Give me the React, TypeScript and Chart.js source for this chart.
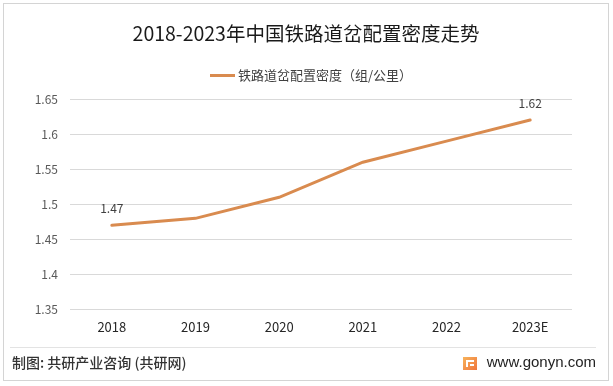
import React, { useEffect, useRef } from "react";
import { Chart, registerables } from "chart.js";

Chart.register(...registerables);

const categories = ["2018", "2019", "2020", "2021", "2022", "2023E"];
const densityValues = [1.47, 1.48, 1.51, 1.56, 1.59, 1.62];
const labeledIndexes = [0, 5];
const yMin = 1.35;
const yMax = 1.65;
const yStep = 0.05;

const titleText = "2018-2023年中国铁路道岔配置密度走势";
const seriesName = "铁路道岔配置密度（组/公里）";
const footerLeft = "制图: 共研产业咨询 (共研网)";
const footerRight = "www.gonyn.com";

const LINE_COLOR = "#d98b4f";
const CJK = '"Noto Sans CJK SC", "Noto Sans", sans-serif';

const decorPlugin = {
  id: "decor",
  beforeDraw(chart: any) {
    const ctx = chart.ctx;
    ctx.save();
    ctx.fillStyle = "#ffffff";
    ctx.fillRect(0, 0, chart.width, chart.height);
    ctx.restore();
  },
  afterDraw(chart: any) {
    const ctx = chart.ctx;
    ctx.save();
    // outer border
    ctx.strokeStyle = "#d4d4d4";
    ctx.lineWidth = 1;
    ctx.strokeRect(3.5, 3.5, 605, 377);
    // title
    ctx.fillStyle = "#1a1a1a";
    ctx.font = `19.5px ${CJK}`;
    ctx.textAlign = "center";
    ctx.textBaseline = "middle";
    ctx.fillText(titleText, 306, 34);
    // legend
    ctx.strokeStyle = LINE_COLOR;
    ctx.lineWidth = 3;
    ctx.beginPath();
    ctx.moveTo(210, 75.5);
    ctx.lineTo(235, 75.5);
    ctx.stroke();
    ctx.fillStyle = "#404040";
    ctx.font = `13px ${CJK}`;
    ctx.textAlign = "left";
    ctx.fillText(seriesName, 238, 75);
    // data labels
    const meta = chart.getDatasetMeta(0);
    ctx.font = `12px ${CJK}`;
    ctx.textAlign = "center";
    ctx.fillStyle = "#404040";
    labeledIndexes.forEach((i) => {
      const pt = meta.data[i];
      ctx.fillText(String(densityValues[i]), pt.x, pt.y - 17);
    });
    // footer separator
    ctx.strokeStyle = "#e3e3e3";
    ctx.lineWidth = 1;
    ctx.beginPath();
    ctx.moveTo(10, 347.5);
    ctx.lineTo(596, 347.5);
    ctx.stroke();
    // footer left
    ctx.fillStyle = "#333333";
    ctx.font = `500 14px ${CJK}`;
    ctx.textAlign = "left";
    ctx.fillText(footerLeft, 12, 363);
    // footer icon
    const g = ctx.createLinearGradient(463, 357, 477, 370);
    g.addColorStop(0, "#f7b35a");
    g.addColorStop(1, "#f0763e");
    ctx.fillStyle = g;
    ctx.fillRect(463, 357, 14, 13);
    ctx.fillStyle = "#ffffff";
    ctx.fillRect(466, 360, 8, 2);
    ctx.fillRect(466, 360, 2, 7);
    ctx.fillRect(470, 364, 4, 2);
    // footer right
    ctx.fillStyle = "#222222";
    ctx.font = '15px "Liberation Sans", Arial, sans-serif';
    ctx.textAlign = "right";
    ctx.fillText(footerRight, 596, 363);
    ctx.restore();
  },
};

export default function App() {
  const ref = useRef<HTMLCanvasElement | null>(null);
  useEffect(() => {
    if (!ref.current) return;
    const chart = new Chart(ref.current, {
      type: "line",
      data: {
        labels: categories,
        datasets: [
          {
            label: seriesName,
            data: densityValues,
            borderColor: LINE_COLOR,
            backgroundColor: LINE_COLOR,
            borderWidth: 3,
            pointRadius: 0,
            tension: 0,
            borderCapStyle: "round",
          },
        ],
      },
      options: {
        responsive: false,
        animation: false,
        devicePixelRatio: 1,
        layout: { padding: { left: 10, right: 41, top: 99, bottom: 46.4 } },
        plugins: {
          legend: { display: false },
          title: { display: false },
          tooltip: { enabled: false },
        },
        scales: {
          x: {
            type: "category",
            offset: true,
            grid: { display: false, drawTicks: false },
            border: { display: false },
            ticks: {
              padding: 10,
              color: "#262626",
              font: { family: CJK, size: 13 },
              maxRotation: 0,
              autoSkip: false,
            },
            afterFit: (s: any) => {
              s.height = 30;
            },
          },
          y: {
            min: yMin,
            max: yMax,
            grid: { color: "#d9d9d9", drawTicks: false, lineWidth: 1 },
            border: { display: false },
            ticks: {
              stepSize: yStep,
              padding: 12,
              color: "#595959",
              font: { family: CJK, size: 12 },
              callback: (v: any) => String(parseFloat(Number(v).toFixed(2))),
            },
            afterFit: (s: any) => {
              s.width = 60;
            },
          },
        },
      },
      plugins: [decorPlugin],
    });
    return () => chart.destroy();
  }, []);
  return (
    <div style={{ position: "fixed", left: 0, top: 0, width: 613, height: 386, background: "#fff" }}>
      <canvas ref={ref} width={613} height={386} style={{ width: 613, height: 386, display: "block" }} />
    </div>
  );
}
